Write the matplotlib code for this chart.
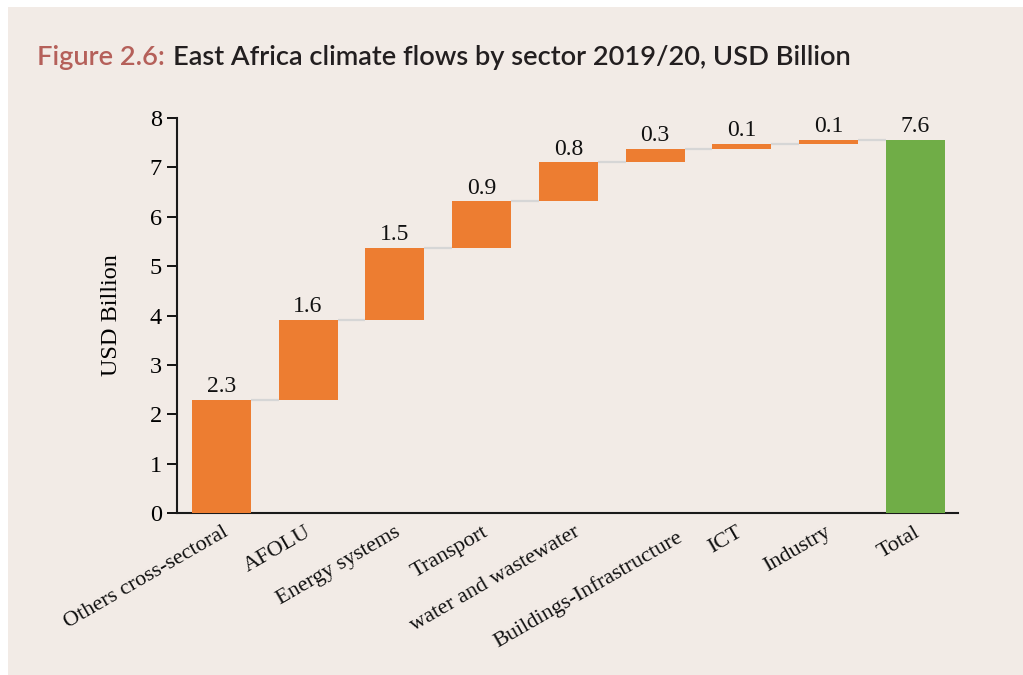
import matplotlib
matplotlib.use("Agg")
import matplotlib.pyplot as plt
from matplotlib.patches import Rectangle
from matplotlib.transforms import ScaledTranslation
import numpy as np

# Sector contributions (USD billion), East Africa 2019/20
categories = ["Others cross-sectoral", "AFOLU", "Energy systems", "Transport",
              "water and wastewater", "Buildings-Infrastructure", "ICT",
              "Industry", "Total"]
sector_values = [2.29, 1.62, 1.46, 0.94, 0.79, 0.28, 0.10, 0.08]
y_ticks = [0, 1, 2, 3, 4, 5, 6, 7, 8]

BG = "#f2ebe6"
ORANGE = "#ed7d31"
GREEN = "#70ad47"
CONNECT = "#d6d6d6"
SERIF = ["Liberation Serif", "DejaVu Serif"]

W, H, DPI = 1023, 675, 100
fig = plt.figure(figsize=(W / DPI, H / DPI), dpi=DPI, facecolor="white")

# beige panel behind everything
fig.patches.append(Rectangle((8 / W, 0), 1 - 8 / W, 1 - 7 / H,
                             transform=fig.transFigure, facecolor=BG,
                             edgecolor="none", zorder=-10))

ax = fig.add_axes([177 / W, 1 - 513 / H, (958 - 177) / W, (513 - 118) / H])
ax.set_facecolor(BG)

total = sum(sector_values)
cum = np.concatenate([[0], np.cumsum(sector_values)])
x = np.arange(len(categories))
width = 0.68

bottoms = list(cum[:-1]) + [0]
heights = list(sector_values) + [total]
colors = [ORANGE] * len(sector_values) + [GREEN]
ax.bar(x, heights, width=width, bottom=bottoms, color=colors, zorder=3)

# connector lines between consecutive bars
for i in range(len(categories) - 1):
    level = cum[i + 1]
    ax.plot([x[i] + width / 2, x[i + 1] - width / 2], [level, level],
            color=CONNECT, lw=1.6, zorder=2, solid_capstyle="butt")

# value labels above bars
for xi, b, h in zip(x, bottoms, heights):
    ax.text(xi, b + h + 0.05, f"{h:.1f}", ha="center", va="bottom",
            fontsize=17, family=SERIF, color="#111111")

ax.set_xlim(-0.51, 8.49)
ax.set_ylim(0, 8)
ax.set_yticks(y_ticks)
ax.set_yticklabels([str(t) for t in y_ticks], family=SERIF, fontsize=17.5)
ax.set_xticks(x)
ax.set_xticklabels([])

# rotated category labels, each anchored at its top-right corner
# nudge: (pixels right, pixels down) relative to the tick
label_nudge = [(1, 0), (-3, 0), (-1, 0), (1, 0), (5, 0), (21, 5), (-6, 0), (-4, 0), (-2, 0)]
base = ax.get_xaxis_transform()
for xi, name, (dx, dy) in zip(x, categories, label_nudge):
    off = ScaledTranslation(dx / DPI, -(10 + dy) / DPI, fig.dpi_scale_trans)
    ax.text(xi, 0, name, transform=base + off, rotation=30,
            rotation_mode="anchor", ha="right", va="top",
            family=SERIF, fontsize=16, color="#111111", clip_on=False)

ax.tick_params(axis="x", length=0)
ax.tick_params(axis="y", length=7, width=1.3, direction="out", pad=4)
for s in ["top", "right"]:
    ax.spines[s].set_visible(False)
for s in ["left", "bottom"]:
    ax.spines[s].set_linewidth(1.5)
    ax.spines[s].set_color("#1a1a1a")
ax.set_ylabel("USD Billion", family=SERIF, fontsize=17.5, labelpad=20)

# title in two colours
title_font = dict(family=["Lato", "DejaVu Sans"], fontsize=19.6, weight="semibold")
t1 = fig.text(37 / W, 1 - 65 / H, "Figure 2.6:", color="#b5605a",
              va="baseline", ha="left", **title_font)
fig.canvas.draw()
bb = t1.get_window_extent(renderer=fig.canvas.get_renderer())
fig.text((bb.x1 + 8) / W, 1 - 65 / H,
         "East Africa climate flows by sector 2019/20, USD Billion",
         color="#231f20", va="baseline", ha="left", **title_font)

fig.savefig("out.png", dpi=DPI, facecolor=fig.get_facecolor())
